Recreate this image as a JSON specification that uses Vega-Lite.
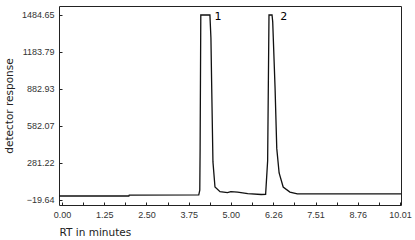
{
  "$schema": "https://vega.github.io/schema/vega-lite/v6.json",
  "width": 342,
  "height": 199,
  "autosize": {"type": "none"},
  "padding": {"left": 59, "top": 6, "right": 14, "bottom": 35},
  "background": "white",
  "config": {
    "view": {"stroke": "#222", "strokeWidth": 1},
    "axis": {"domain": false, "grid": false, "tickColor": "#222", "tickSize": -3, "labelOverlap": false, "labelBound": false, "labelFlush": false, "labelFont": "Liberation Sans", "labelFontSize": 9, "labelColor": "#333", "titleFont": "DejaVu Sans", "titleFontSize": 10.5, "titleFontWeight": "normal", "titleColor": "#222"}
  },
  "datasets": {
    "curve": [
      {"rt": -0.09, "response": 13},
      {"rt": 1.98, "response": 13},
      {"rt": 1.99, "response": 20},
      {"rt": 4.05, "response": 22},
      {"rt": 4.08, "response": 60},
      {"rt": 4.09, "response": 400},
      {"rt": 4.11, "response": 1484.65},
      {"rt": 4.38, "response": 1484.65},
      {"rt": 4.41, "response": 1300},
      {"rt": 4.43, "response": 950},
      {"rt": 4.47, "response": 290},
      {"rt": 4.53, "response": 86},
      {"rt": 4.68, "response": 48},
      {"rt": 4.9, "response": 40},
      {"rt": 5.0, "response": 48},
      {"rt": 5.2, "response": 45},
      {"rt": 5.5, "response": 33},
      {"rt": 5.9, "response": 25},
      {"rt": 6.03, "response": 26},
      {"rt": 6.09, "response": 300},
      {"rt": 6.13, "response": 1484.65},
      {"rt": 6.22, "response": 1484.65},
      {"rt": 6.24, "response": 1430},
      {"rt": 6.31, "response": 890},
      {"rt": 6.36, "response": 400},
      {"rt": 6.43, "response": 200},
      {"rt": 6.55, "response": 86},
      {"rt": 6.75, "response": 45},
      {"rt": 6.97, "response": 30},
      {"rt": 10.04, "response": 30}
    ],
    "labels": [
      {"rt": 4.62, "response": 1468, "peak": "1"},
      {"rt": 6.57, "response": 1468, "peak": "2"}
    ]
  },
  "encoding": {
    "x": {
      "field": "rt", "type": "quantitative",
      "scale": {"domain": [-0.09, 10.04], "nice": false, "zero": false},
      "axis": {
        "title": "RT in minutes",
        "titleAnchor": "start",
        "titleAlign": "left",
        "titlePadding": 8,
        "values": [0, 0.625, 1.25, 1.875, 2.5, 3.125, 3.75, 4.375, 5.0, 5.63, 6.26, 6.885, 7.51, 8.135, 8.76, 9.385, 10.01],
        "labelExpr": "indexof([0,1.25,2.5,3.75,5,6.26,7.51,8.76,10.01], datum.value) >= 0 ? format(datum.value, '.2f') : ''",
        "labelOverlap": false,
        "labelPadding": 8
      }
    },
    "y": {
      "field": "response", "type": "quantitative",
      "scale": {"domain": [-60.3, 1557.8], "nice": false, "zero": false},
      "axis": {
        "title": "detector response",
        "titlePadding": 7,
        "values": [-19.64, 281.22, 582.07, 882.93, 1183.79, 1484.65],
        "format": ".2f",
        "labelOverlap": false,
        "labelPadding": 8
      }
    }
  },
  "layer": [
    {
      "data": {"name": "curve"},
      "mark": {"type": "line", "color": "#111", "strokeWidth": 1.3, "clip": true, "interpolate": "linear"}
    },
    {
      "data": {"name": "labels"},
      "mark": {"type": "text", "font": "DejaVu Sans", "fontSize": 11, "fill": "#000"},
      "encoding": {
        "text": {"field": "peak"}
      }
    }
  ]
}
